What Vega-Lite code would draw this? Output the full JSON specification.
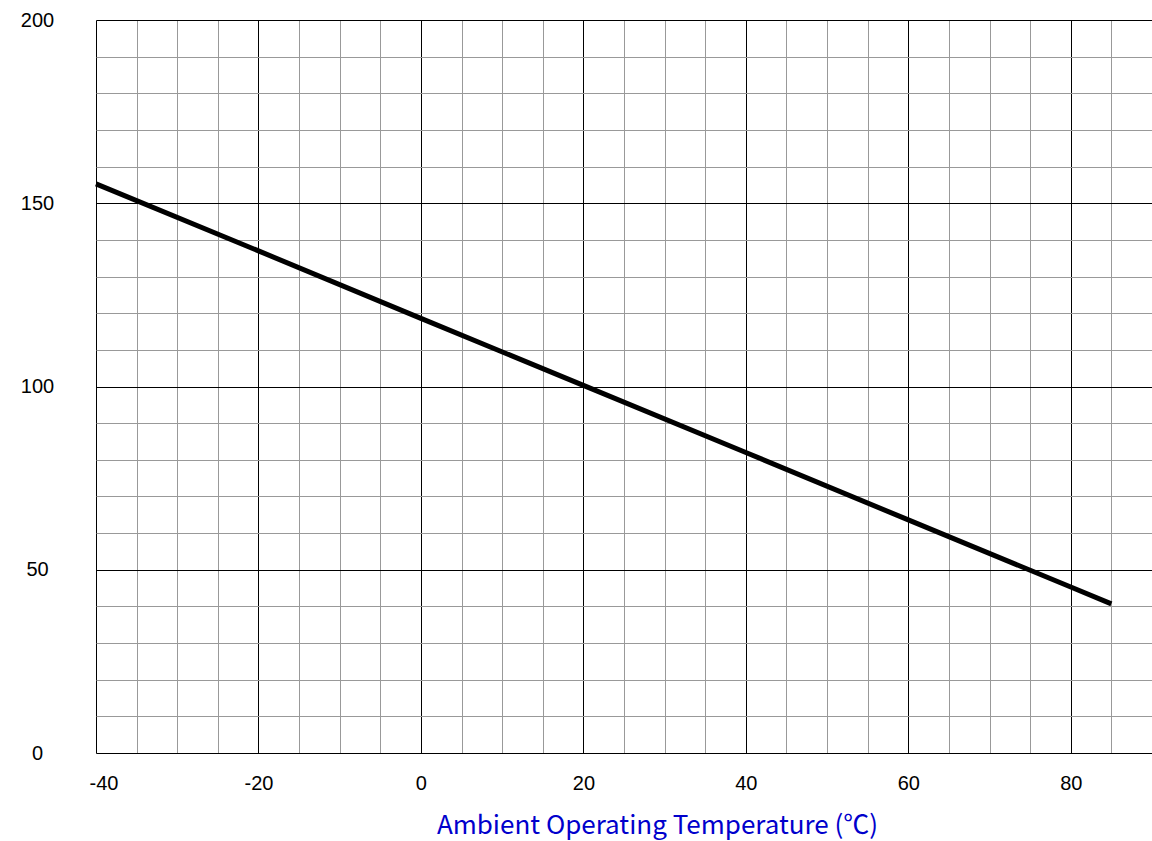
{
  "$schema": "https://vega.github.io/schema/vega-lite/v6.json",
  "width": 1056,
  "height": 733,
  "autosize": {"type": "none"},
  "padding": {"left": 96, "top": 20, "right": 0, "bottom": 88},
  "background": "white",
  "config": {"view": {"stroke": null}},
  "data": {
    "values": [
      {"temp": -40, "value": 155.3},
      {"temp": -20, "value": 137.0},
      {"temp": 0, "value": 118.6},
      {"temp": 20, "value": 100.3},
      {"temp": 40, "value": 82.0},
      {"temp": 60, "value": 63.6},
      {"temp": 80, "value": 45.3},
      {"temp": 85, "value": 40.7}
    ]
  },
  "mark": {"type": "line", "color": "black", "strokeWidth": 5, "strokeCap": "butt"},
  "encoding": {
    "x": {
      "field": "temp",
      "type": "quantitative",
      "scale": {"domain": [-40, 90], "nice": false, "zero": false},
      "axis": {
        "values": [-40,-35,-30,-25,-20,-15,-10,-5,0,5,10,15,20,25,30,35,40,45,50,55,60,65,70,75,80,85,90],
        "grid": true,
        "gridColor": {"condition": {"test": "datum.value % 20 === 0", "value": "#000000"}, "value": "#999999"},
        "gridWidth": 1,
        "gridOpacity": 1,
        "domain": false,
        "ticks": false,
        "tickSize": 0,
        "labelExpr": "datum.value % 20 === 0 ? '' + datum.value : ''",
        "labelOverlap": false,
        "labelFlush": true,
        "labelFlushOffset": 7,
        "labelFont": "Liberation Sans",
        "labelFontSize": 20,
        "labelColor": "#000000",
        "labelPadding": 20,
        "title": "Ambient Operating Temperature (℃)",
        "titleFont": "Noto Sans CJK SC",
        "titleFontSize": 26,
        "titleFontWeight": "normal",
        "titleColor": "#0000CC",
        "titleX": 561,
        "titleY": 80,
        "titleAlign": "center",
        "titleBaseline": "alphabetic",
        "titleAnchor": "middle"
      }
    },
    "y": {
      "field": "value",
      "type": "quantitative",
      "scale": {"domain": [0, 200], "nice": false},
      "axis": {
        "values": [0,10,20,30,40,50,60,70,80,90,100,110,120,130,140,150,160,170,180,190,200],
        "grid": true,
        "gridColor": {"condition": {"test": "datum.value % 50 === 0", "value": "#000000"}, "value": "#999999"},
        "gridWidth": 1,
        "gridOpacity": 1,
        "domain": false,
        "ticks": false,
        "tickSize": 0,
        "labelExpr": "datum.value % 50 === 0 ? '' + datum.value : ''",
        "labelOverlap": false,
        "labelFlush": false,
        "labelAlign": "center",
        "labelBaseline": "middle",
        "labelFont": "Liberation Sans",
        "labelFontSize": 20,
        "labelColor": "#000000",
        "labelPadding": 59,
        "title": null
      }
    }
  }
}
